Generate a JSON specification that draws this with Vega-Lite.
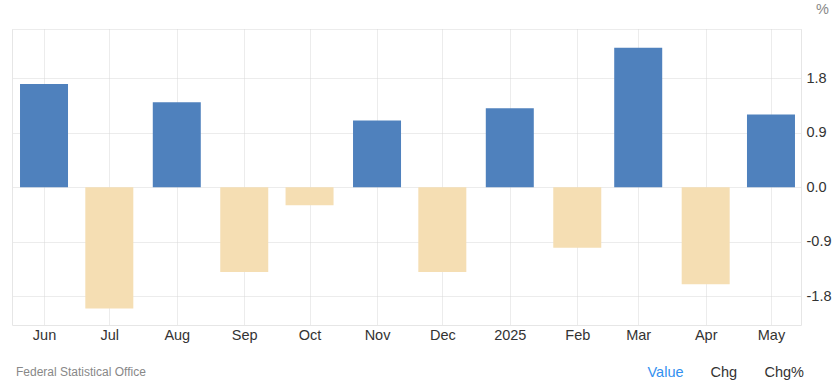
{
  "$schema": "https://vega.github.io/schema/vega-lite/v6.json",
  "width": 789,
  "height": 296,
  "autosize": "none",
  "padding": {"left": 12, "top": 29, "right": 38, "bottom": 62},
  "background": "white",
  "config": {
    "view": {"stroke": null},
    "font": "Liberation Sans"
  },
  "datasets": {
    "bars": [
      {"date": "2024-06-01", "value": 1.7},
      {"date": "2024-07-01", "value": -2.0},
      {"date": "2024-08-01", "value": 1.4},
      {"date": "2024-09-01", "value": -1.4},
      {"date": "2024-10-01", "value": -0.3},
      {"date": "2024-11-01", "value": 1.1},
      {"date": "2024-12-01", "value": -1.4},
      {"date": "2025-01-01", "value": 1.3},
      {"date": "2025-02-01", "value": -1.0},
      {"date": "2025-03-01", "value": 2.3},
      {"date": "2025-04-01", "value": -1.6},
      {"date": "2025-05-01", "value": 1.2}
    ],
    "tabs": [
      {"tab": "Value"},
      {"tab": "Chg"},
      {"tab": "Chg%"}
    ],
    "source": [
      {"src": "Federal Statistical Office"}
    ]
  },
  "layer": [
    {
      "data": {"name": "bars"},
      "mark": {"type": "bar", "width": 48},
      "encoding": {
        "x": {
          "field": "date",
          "type": "temporal",
          "scale": {
            "type": "utc",
            "padding": 0,
            "domain": [
              {"year": 2024, "month": 5, "date": 17, "hours": 7, "utc": true},
              {"year": 2025, "month": 5, "date": 14, "hours": 19, "utc": true}
            ]
          },
          "axis": {
            "title": null,
            "orient": "bottom",
            "tickCount": {"interval": "month", "step": 1},
            "labelExpr": "utcmonth(datum.value) == 0 ? utcFormat(datum.value, '%Y') : utcFormat(datum.value, '%b')",
            "labelFontSize": 14.5,
            "labelColor": "#333333",
            "labelPadding": 3,
            "labelFlush": false,
            "labelOverlap": false,
            "ticks": false,
            "domain": true,
            "domainColor": "#e6e6e6",
            "grid": true,
            "gridColor": "#d8d8d8",
            "gridDash": [1, 1]
          }
        },
        "y": {
          "field": "value",
          "type": "quantitative",
          "scale": {"domain": [-2.274, 2.609], "nice": false, "zero": false},
          "axis": {
            "title": "%",
            "titleAngle": 0,
            "titleX": 21,
            "titleY": -20,
            "titleAlign": "center",
            "titleBaseline": "middle",
            "titleFontSize": 14.5,
            "titleFontWeight": "normal",
            "titleColor": "#888888",
            "orient": "right",
            "values": [-1.8, -0.9, 0, 0.9, 1.8, 2.609],
            "labelExpr": "datum.value > 2 ? '' : (datum.value < 0 ? '-' : '') + format(abs(datum.value), '.1f')",
            "labelFontSize": 14.5,
            "labelColor": "#333333",
            "labelAlign": "left",
            "labelPadding": 5,
            "ticks": false,
            "domain": true,
            "domainColor": "#e6e6e6",
            "grid": true,
            "gridColor": "#d8d8d8",
            "gridDash": [1, 1]
          }
        },
        "color": {
          "condition": {"test": "datum.value >= 0", "value": "#4f81bd"},
          "value": "#f5deb3"
        }
      }
    },
    {
      "data": {"name": "bars"},
      "mark": {"type": "bar", "width": 48, "opacity": 0},
      "encoding": {
        "x": {"field": "date", "type": "temporal"},
        "y": {
          "field": "value",
          "type": "quantitative",
          "axis": {
            "title": null,
            "orient": "left",
            "labels": false,
            "ticks": false,
            "grid": false,
            "domain": true,
            "domainColor": "#e6e6e6"
          }
        }
      }
    },
    {
      "data": {"name": "tabs"},
      "mark": {"type": "point", "opacity": 0},
      "encoding": {
        "shape": {
          "field": "tab",
          "type": "nominal",
          "scale": {"domain": ["Value", "Chg", "Chg%"]},
          "legend": {
            "title": null,
            "orient": "none",
            "legendX": 621,
            "legendY": 337,
            "direction": "horizontal",
            "symbolSize": 1,
            "symbolStrokeWidth": 0,
            "symbolOpacity": 0,
            "labelOffset": 0,
            "columnPadding": 12,
            "labelFontSize": 14.5,
            "labelFont": "Liberation Sans",
            "labelColor": {"expr": "datum.label === 'Value' ? '#3390f0' : '#333333'"}
          }
        }
      }
    },
    {
      "data": {"name": "source"},
      "mark": {"type": "point", "opacity": 0},
      "encoding": {
        "color": {
          "field": "src",
          "type": "nominal",
          "scale": {"domain": ["Federal Statistical Office"], "range": ["#888888"]},
          "legend": {
            "title": null,
            "orient": "none",
            "legendX": -8,
            "legendY": 337,
            "direction": "horizontal",
            "symbolSize": 1,
            "symbolStrokeWidth": 0,
            "symbolOpacity": 0,
            "labelOffset": 0,
            "labelFontSize": 12,
            "labelFont": "Liberation Sans",
            "labelColor": "#888888"
          }
        }
      }
    }
  ],
  "resolve": {"axis": {"y": "independent"}}
}
